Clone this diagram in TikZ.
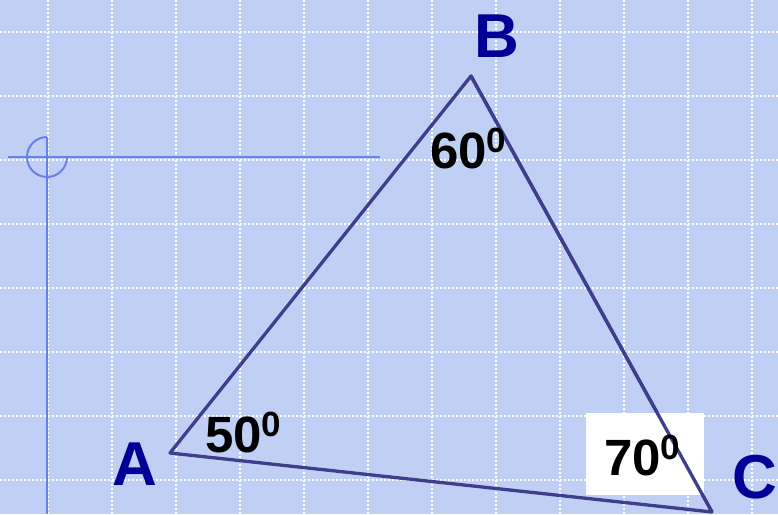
\documentclass[tikz,border=0pt]{standalone}
\usepackage{fontspec}
\setmainfont{Liberation Sans}
\usepackage{tikz}
\usepackage{xcolor}
\usetikzlibrary{positioning, calc}
\definecolor{cPaper}{RGB}{192,208,245}
\definecolor{cAxis}{RGB}{104,128,236}
\definecolor{cSide}{RGB}{62,62,140}
\definecolor{cVertex}{RGB}{0,0,150}
\tikzset{
	gridline/.style={white, line width=1.2pt, dash pattern=on 2pt off 2pt},
	axisline/.style={cAxis, line width=2pt},
	sideline/.style={cSide, line width=3.3pt, line join=round},
	vertexlbl/.style={anchor=base west, inner sep=0pt, text=cVertex, font=\fontsize{62}{62}\selectfont\bfseries},
	anglelbl/.style={anchor=base west, inner sep=0pt, text=black, font=\fontsize{51}{51}\selectfont\bfseries},
}
\newcommand{\anglabel}[1]{#1\raisebox{16pt}{\fontsize{35}{35}\selectfont 0}}

\begin{document}
\begin{tikzpicture}[x=1pt, y=-1pt]
	% paper and grid
	\fill[cPaper] (0,0) rectangle (778,514);
	\useasboundingbox (0,0) rectangle (778,514);
	\foreach \gx in {48,112,...,752} \draw[gridline] (\gx,0) -- (\gx,514);
	\foreach \gy in {32,96,...,480} \draw[gridline] (0,\gy) -- (778,\gy);
	% axes with the origin mark
	\coordinate (o) at (47,157);
	\draw[axisline] (8,157) -- (380,157);
	\draw[axisline] (47,137) -- (47,514);
	\draw[axisline] (47,137) arc[start angle=-90, end angle=-360, radius=20];
	% triangle
	\coordinate (A) at (170,453);
	\coordinate (B) at (471,76);
	\coordinate (C) at (712,512);
	\draw[sideline] (A) -- (B) -- (C) -- cycle;
	\node[vertexlbl] (lA) at (112,485) {A};
	\node[vertexlbl] (lB) at (474,57) {B};
	\node[vertexlbl] (lC) at (732,498) {C};
	% angles
	\node[fill=white, minimum width=118pt, minimum height=82pt, inner sep=0pt, anchor=north west] (box) at (586,413) {};
	\draw[sideline] (B) -- (C);
	\node[anglelbl] (aB) at (430,168) {\anglabel{60}};
	\node[anglelbl] (aA) at (205,452) {\anglabel{50}};
	\node[anglelbl] (aC) at (604,475) {\anglabel{70}};
\end{tikzpicture}
\end{document}
